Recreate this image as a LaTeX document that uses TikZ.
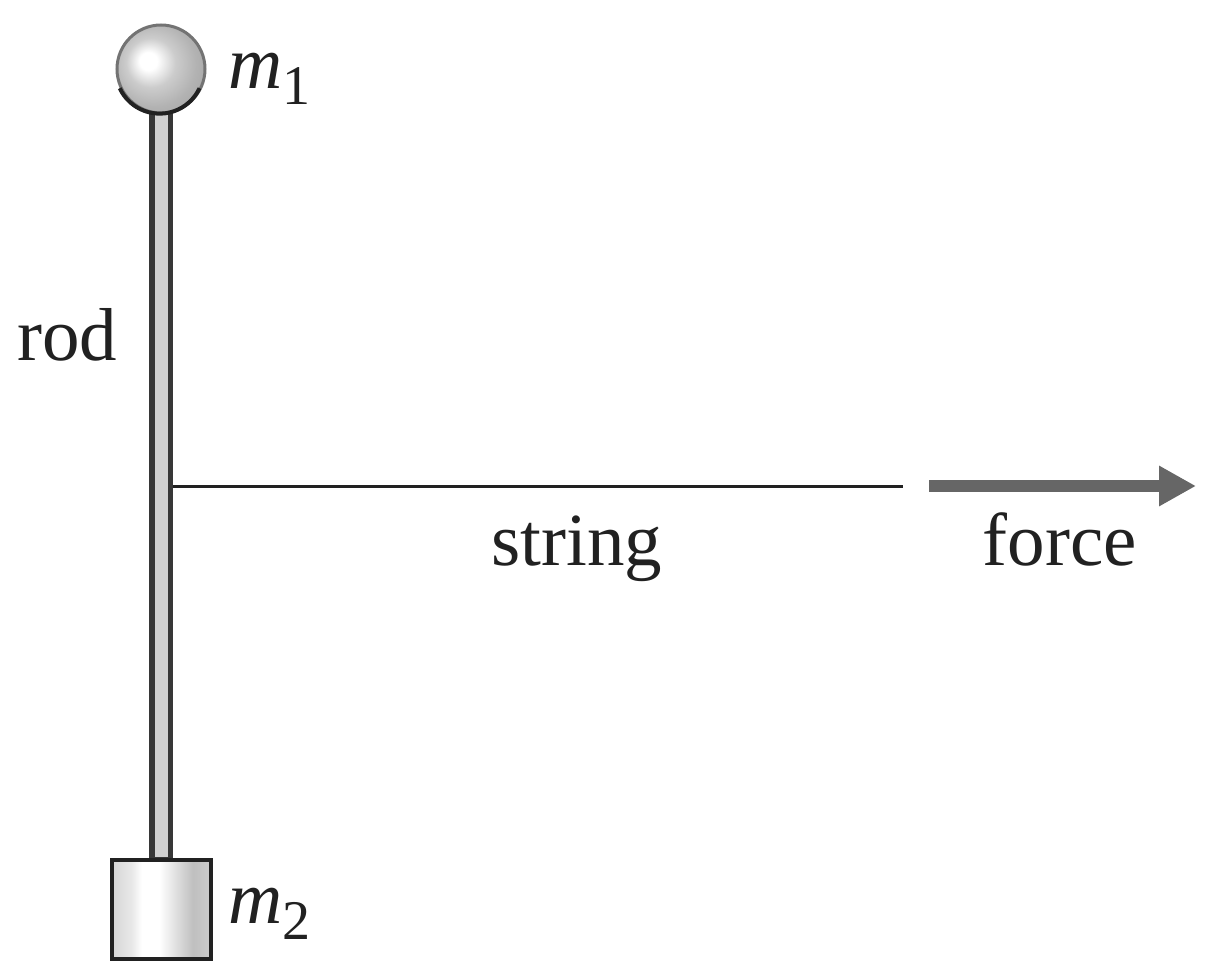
\documentclass[tikz,border=0pt]{standalone}
\usepackage{fontspec}
\setmainfont{Liberation Serif}
\usepackage{tikz}
\usetikzlibrary{arrows.meta,positioning}
\definecolor{inkgray}{gray}{0.13}
\definecolor{rodfill}{gray}{0.82}
\definecolor{forcegray}{gray}{0.4}
\pgfdeclareradialshading{ballshade}{\pgfpoint{-8bp}{5bp}}{
  color(0bp)=(white); color(5bp)=(white); color(14bp)=(black!20);
  color(24bp)=(black!30); color(50bp)=(black!45)}
\pgfdeclarehorizontalshading{blockshade}{100bp}{
  color(0bp)=(black!16); color(25bp)=(black!16); color(35bp)=(black!9);
  color(40bp)=(white); color(49bp)=(white); color(57bp)=(black!12);
  color(66bp)=(black!25); color(75bp)=(black!20); color(100bp)=(black!20)}
\tikzset{
  lbl/.style={inner sep=0pt,text=inkgray,font=\fontsize{75}{75}\selectfont},
  rodline/.style={draw=inkgray!90,line width=5.5pt,fill=rodfill},
}
\newcommand{\massname}[1]{\textit{m}\raisebox{-16pt}{\fontsize{56}{56}\selectfont #1}}
\begin{document}
\begin{tikzpicture}[x=1pt,y=-1pt]
\useasboundingbox (0,0) rectangle (1208,976);
\draw[rodline] (152,112) rectangle (170.5,860);
% weights
\node[circle,minimum size=88pt,inner sep=0pt,line width=3pt,draw=black!55,
	shading=ballshade] (ball) at (161,69){};
\draw[inkgray,line width=4pt] (ball.205) arc[start angle=155,end angle=25,radius=44];
\node[rectangle,minimum width=99pt,minimum height=99pt,inner sep=0pt,line width=4.5pt,draw=inkgray,
	shading=blockshade] (block) at (161.5,909.5){};
\node[lbl,anchor=base west] (mA) at (228,89){\massname{1}};
\node[lbl,anchor=base west] (mB) at (228,923){\massname{2}};
\node[lbl,anchor=base west] (rod) at (17,360){rod};
\coordinate (mid) at (173,486);
\coordinate (end) at (903,486);
\draw[inkgray,line width=3pt] (mid)--(end);
\coordinate (tail) at (929,486);
\coordinate (tip) at (1196,486);
\draw[-{Triangle[length=37pt,width=38pt]},line width=12pt,forcegray] (tail)--(tip);
\node[lbl,anchor=base] (string) at (577,565){string};
\node[lbl,anchor=base] (force) at (1060,565){force};
\end{tikzpicture}
\end{document}
